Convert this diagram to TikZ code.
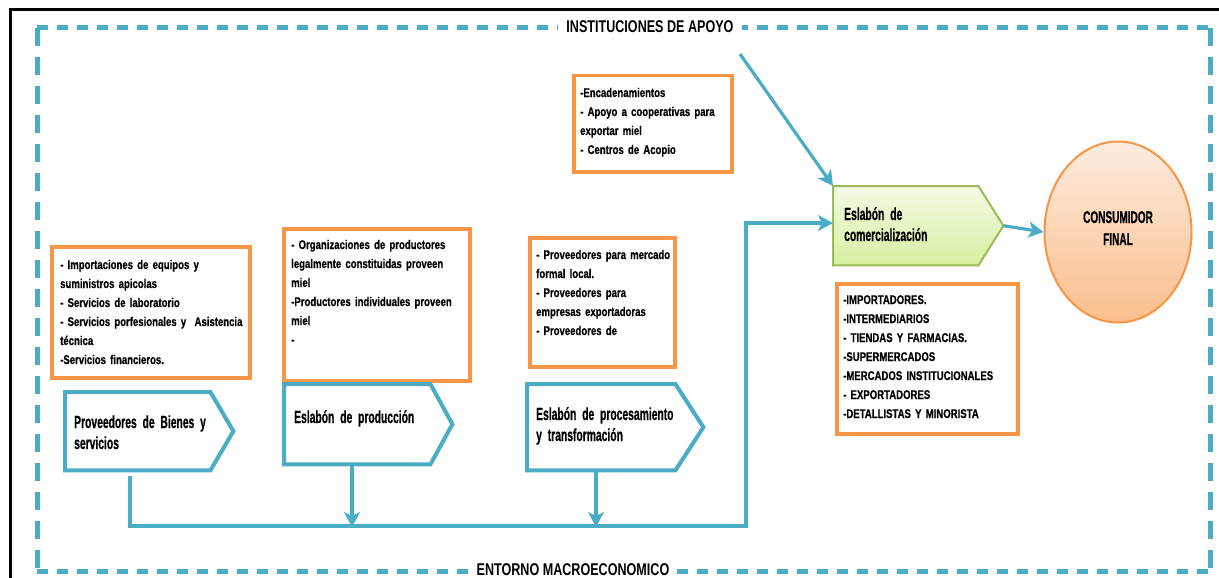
\documentclass[tikz,border=0pt]{standalone}
\usepackage{fontspec}
\setmainfont{Liberation Sans}
\newfontfamily\nara{Liberation Sans}[FakeStretch=0.76,FakeBold=0.6]
\newfontfamily\narb{Liberation Sans}[FakeStretch=0.59,FakeBold=0.6]
\newfontfamily\narc{Liberation Sans}[FakeStretch=0.74]
\protected\def\tspa{\spaceskip=2.2pt plus 1pt minus 0.5pt\relax}
\protected\def\tspb{\spaceskip=3pt plus 1pt minus 0.5pt\relax}
\usetikzlibrary{arrows.meta,shapes.geometric}
\definecolor{aqua}{HTML}{4BACC6}
\definecolor{orng}{HTML}{F79646}
\definecolor{grn}{HTML}{9BBB59}
\begin{document}
\begin{tikzpicture}[x=1pt,y=-1pt,
  bline/.style={draw=aqua,line width=3.2pt},
  arr/.style={bline,-{Stealth[length=15pt,width=16pt,inset=4pt]}},
  obox/.style={draw=orng,line width=3.5pt,fill=white,inner sep=0pt,anchor=north west},
  otext/.style={anchor=base west,align=left,inner sep=0pt,text width=#1,font=\nara\bfseries\fontsize{12.6}{19}\selectfont\tspa},
  pbox/.style={inner sep=0pt,anchor=north west},
  pline/.style={draw=aqua,line width=4pt,fill=white},
  ptext/.style={anchor=base west,align=left,inner sep=0pt,text width=#1,font=\narb\bfseries\fontsize{17.5}{21}\selectfont\tspb},
  frameline/.style={draw=aqua,line width=5pt},
  flabel/.style={fill=white,inner xsep=8pt,inner ysep=2pt,anchor=base,font=\narc\bfseries\fontsize{17}{17}\selectfont}
]
\useasboundingbox (0,0) rectangle (1219,578);
\fill[white] (0,0) rectangle (1219,578);

% black frame
\draw[line width=3pt] (10,578) -- (10,10) -- (1219,10);

% dashed frame
\draw[frameline,dash pattern=on 11pt off 9pt] (37,28) -- (1210,28);
\draw[frameline,dash pattern=on 11pt off 9pt] (37,571) -- (1210,571);
\draw[frameline,dash pattern=on 18pt off 11pt] (37,28) -- (37,571);
\draw[frameline,dash pattern=on 18pt off 11pt] (1210,28) -- (1210,571);
\node[flabel] (inst) at (650,33) {INSTITUCIONES DE APOYO};
\node[flabel] (ent) at (573,575) {ENTORNO MACROECONOMICO};

% orange boxes
\node[obox,minimum width=158pt,minimum height=96pt] (bt) at (572,74) {};
\node[otext=150pt] (tt) at (580,97) {-Encadenamientos\\- Apoyo a cooperativas para\\exportar miel\\- Centros de Acopio};

\node[obox,minimum width=198pt,minimum height=131pt] (b1) at (50,245) {};
\node[otext=185pt] (t1) at (60,269) {- Importaciones de equipos y\\suministros apicolas\\- Servicios de laboratorio\\- Servicios porfesionales y\ \ Asistencia\\técnica\\-Servicios financieros.};

\node[obox,minimum width=186pt,minimum height=152pt] (b2) at (282,227) {};
\node[otext=175pt] (t2) at (291,249) {- Organizaciones de productores\\legalmente constituidas proveen\\miel\\-Productores individuales proveen\\miel\\-};

\node[obox,minimum width=145pt,minimum height=129pt] (b3) at (528,236) {};
\node[otext=135pt] (t3) at (536,259) {- Proveedores para mercado\\formal local.\\- Proveedores para\\empresas exportadoras\\- Proveedores de};

\node[obox,minimum width=181pt,minimum height=150pt] (b4) at (835,282) {};
\node[otext=170pt] (t4) at (843,304) {-IMPORTADORES.\\-INTERMEDIARIOS\\- TIENDAS Y FARMACIAS.\\-SUPERMERCADOS\\-MERCADOS INSTITUCIONALES\\- EXPORTADORES\\-DETALLISTAS Y MINORISTA};

% blue pentagons
\node[pbox,minimum width=168pt,minimum height=78pt] (p1) at (65,392) {};
\draw[pline] (p1.north west) -- ([xshift=-23pt]p1.north east) -- (p1.east) -- ([xshift=-23pt]p1.south east) -- (p1.south west) -- cycle;
\node[ptext=140pt] (pt1) at (74,428) {Proveedores de Bienes y\\servicios};

\node[pbox,minimum width=168pt,minimum height=80pt] (p2) at (284,384) {};
\draw[pline] (p2.north west) -- ([xshift=-22pt]p2.north east) -- (p2.east) -- ([xshift=-22pt]p2.south east) -- (p2.south west) -- cycle;
\node[ptext=140pt] (pt2) at (294,423) {Eslabón de producción};

\node[pbox,minimum width=176pt,minimum height=86pt] (p3) at (527,384) {};
\draw[pline] (p3.north west) -- ([xshift=-28pt]p3.north east) -- (p3.east) -- ([xshift=-28pt]p3.south east) -- (p3.south west) -- cycle;
\node[ptext=150pt] (pt3) at (536,420) {Eslabón de procesamiento\\y transformación};

% green pentagon
\node[pbox,minimum width=170pt,minimum height=79pt] (gr) at (833,186) {};
\draw[draw=grn,line width=2pt,top color={rgb,255:red,243;green,250;blue,230},bottom color={rgb,255:red,214;green,240;blue,160}] (gr.north west) -- ([xshift=-25pt]gr.north east) -- (gr.east) -- ([xshift=-25pt]gr.south east) -- (gr.south west) -- cycle;
\node[ptext=140pt] (gt) at (844,220) {Eslabón de\\comercialización};

% consumer
\node[ellipse,draw=orng,line width=2pt,minimum width=147pt,minimum height=181pt,inner sep=0pt,top color={rgb,255:red,253;green,236;blue,222},bottom color={rgb,255:red,250;green,190;blue,140}] (cons) at (1118,232) {};
\node[anchor=base,align=center,inner sep=0pt,text width=120pt,font=\narb\bfseries\fontsize{17}{22}\selectfont] (ct) at (1118,223) {CONSUMIDOR\\FINAL};

% connectors
\coordinate (j1) at (130,526);
\coordinate (j2) at (746,526);
\coordinate (j3) at (746,223);
\draw[arr] ([yshift=-6pt]p1.south -| j1) -- (j1) -- (j2) -- (j3) -- (j3 -| gr.west);
\coordinate (a2) at (352,527);
\coordinate (a3) at (596,527);
\draw[arr] (p2.south -| a2) -- (a2);
\draw[arr] (p3.south -| a3) -- (a3);
\coordinate (d0) at (740,54);
\draw[arr] (d0) -- (gr.north west);
\draw[arr] (gr.east) -- (cons.west);
\end{tikzpicture}
\end{document}
